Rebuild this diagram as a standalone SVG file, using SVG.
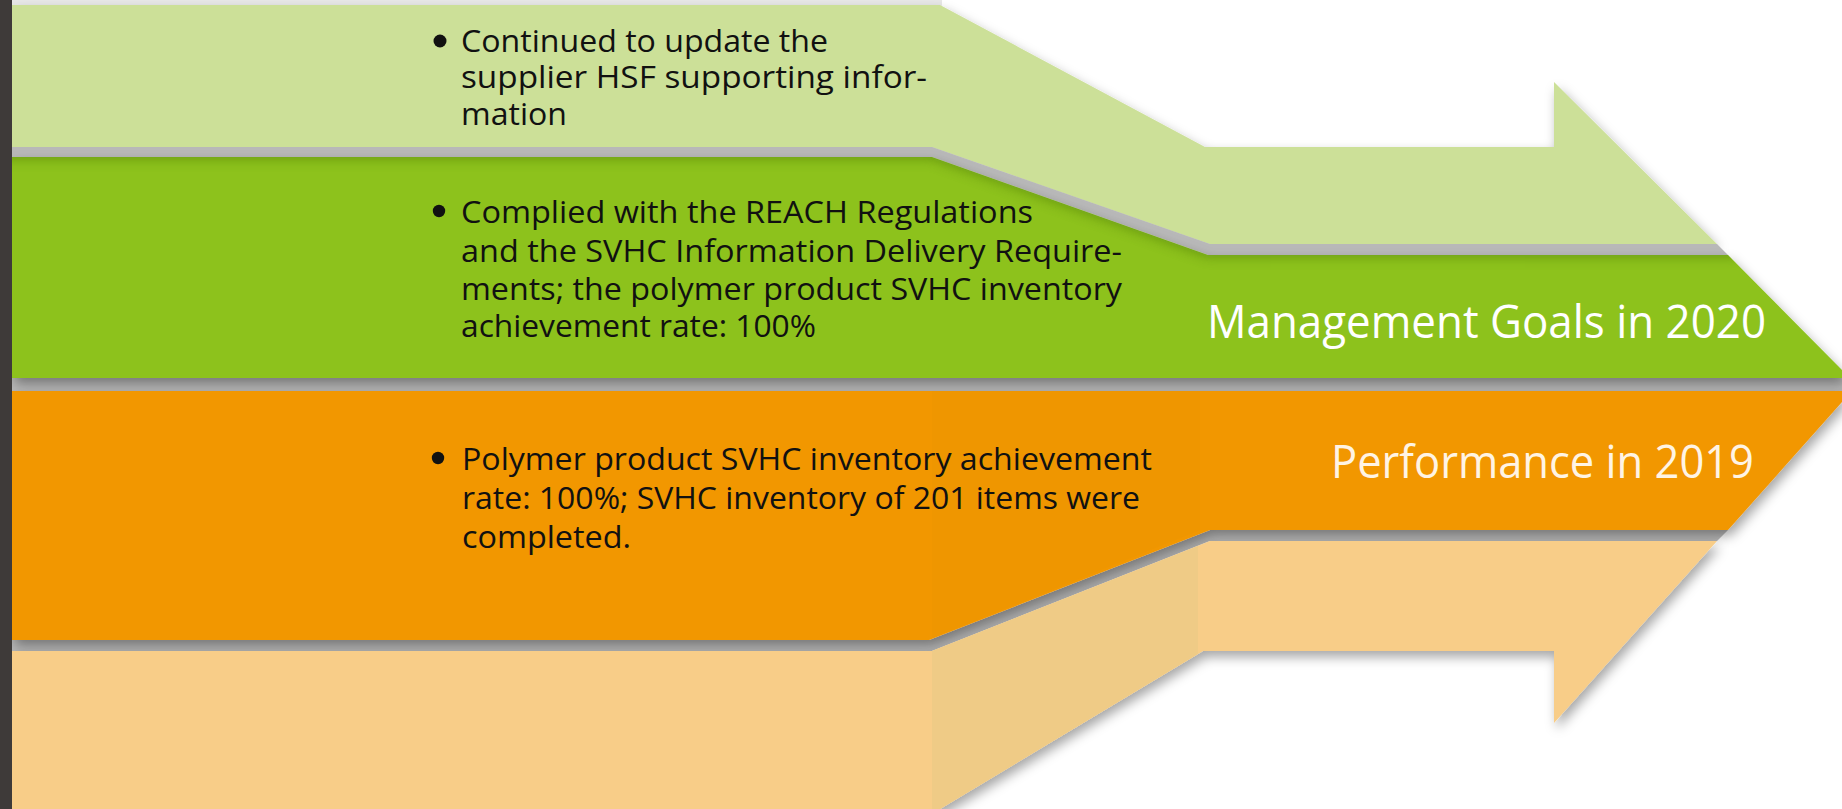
<svg xmlns="http://www.w3.org/2000/svg" width="1842" height="809" viewBox="0 0 1842 809">
<defs>
<style>
.body{font-family:"Open Sans","Noto Sans",sans-serif;fill:#111;font-size:31.5px;}
.head{font-family:"Open Sans","Noto Sans",sans-serif;font-size:45px;}
.gap{fill:#B8B8B8;}
</style>
<filter id="sh" x="-10%" y="-20%" width="130%" height="160%">
<feDropShadow dx="3" dy="6" stdDeviation="6" flood-color="#000" flood-opacity="0.35"/>
</filter>
<filter id="blur" x="-5%" y="-50%" width="110%" height="200%">
<feGaussianBlur stdDeviation="6"/>
</filter>
<clipPath id="greenClip">
<path d="M12,157 L932,157 L1208,255 L1728,255 L1842,370 L1842,378 L12,378 Z"/>
</clipPath>
</defs>
<rect x="0" y="0" width="1842" height="809" fill="#FFFFFF"/>
<rect x="12" y="0" width="930" height="6" fill="#E8E8E8"/>

<g id="band-lightgreen">
<path d="M12,5 L940,5 L1205,147 L1554,147 L1554,82 L1717,244 L1210,244 L932,147 L12,147 Z" fill="#CCE098" filter="url(#sh)"/>
<circle cx="440" cy="41" r="6.5" fill="#111"/>
<text class="body" x="461" y="52" textLength="367" lengthAdjust="spacingAndGlyphs">Continued to update the</text>
<text class="body" x="461" y="88" textLength="466" lengthAdjust="spacingAndGlyphs">supplier HSF supporting infor-</text>
<text class="body" x="461" y="125" textLength="106" lengthAdjust="spacingAndGlyphs">mation</text>
</g>

<g id="separators">
<path class="gap" d="M12,147 L932,147 L1210,244 L1717,244 L1728,255 L1208,255 L932,157 L12,157 Z"/>
<rect class="gap" x="12" y="377" width="1830" height="14"/>
<path class="gap" d="M12,640 L929,640 L1210,530 L1728,530 L1717,541 L1210,541 L932,651 L12,651 Z"/>
</g>

<g id="band-green">
<path d="M12,157 L932,157 L1208,255 L1728,255 L1842,370 L1842,378 L12,378 Z" fill="#8DC21F" filter="url(#sh)"/>
<g clip-path="url(#greenClip)">
<path d="M0,152 L932,152 L1208,250 L1740,250" fill="none" stroke="#4E7A08" stroke-width="14" opacity="0.55" filter="url(#blur)"/>
</g>
<circle cx="439" cy="211" r="6.2" fill="#111"/>
<text class="body" x="461" y="223" textLength="572" lengthAdjust="spacingAndGlyphs">Complied with the REACH Regulations</text>
<text class="body" x="461" y="262" textLength="661" lengthAdjust="spacingAndGlyphs">and the SVHC Information Delivery Require-</text>
<text class="body" x="461" y="300" textLength="661" lengthAdjust="spacingAndGlyphs">ments; the polymer product SVHC inventory</text>
<text class="body" x="461" y="337" textLength="355" lengthAdjust="spacingAndGlyphs">achievement rate: 100%</text>
<text class="head" x="1207" y="338" fill="#FFFFFF" textLength="559" lengthAdjust="spacingAndGlyphs">Management Goals in 2020</text>
</g>

<g id="band-orange">
<path d="M12,391 L1842,391 L1842,402 L1728,530 L1210,530 L929,640 L12,640 Z" fill="#F29700" filter="url(#sh)"/>
<path d="M932,391 L1200,391 L1200,530 L932,638 Z" fill="#EF9600"/>
<circle cx="438" cy="458" r="6.2" fill="#111"/>
<text class="body" x="462" y="470" textLength="690" lengthAdjust="spacingAndGlyphs">Polymer product SVHC inventory achievement</text>
<text class="body" x="462" y="509" textLength="678" lengthAdjust="spacingAndGlyphs">rate: 100%; SVHC inventory of 201 items were</text>
<text class="body" x="462" y="548" textLength="169" lengthAdjust="spacingAndGlyphs">completed.</text>
<text class="head" x="1331" y="478" fill="#FFF4E4" textLength="423" lengthAdjust="spacingAndGlyphs">Performance in 2019</text>
</g>

<g id="band-lightorange">
<path d="M12,651 L932,651 L1210,541 L1717,541 L1554,723 L1554,651 L1203,651 L940,809 L12,809 Z" fill="#F8CD88" filter="url(#sh)"/>
<path d="M932,651 L1198,546 L1198,654 L940,809 L932,809 Z" fill="#EFCB86"/>
</g>

<rect x="0" y="0" width="12" height="809" fill="#3E3A39"/>
</svg>
